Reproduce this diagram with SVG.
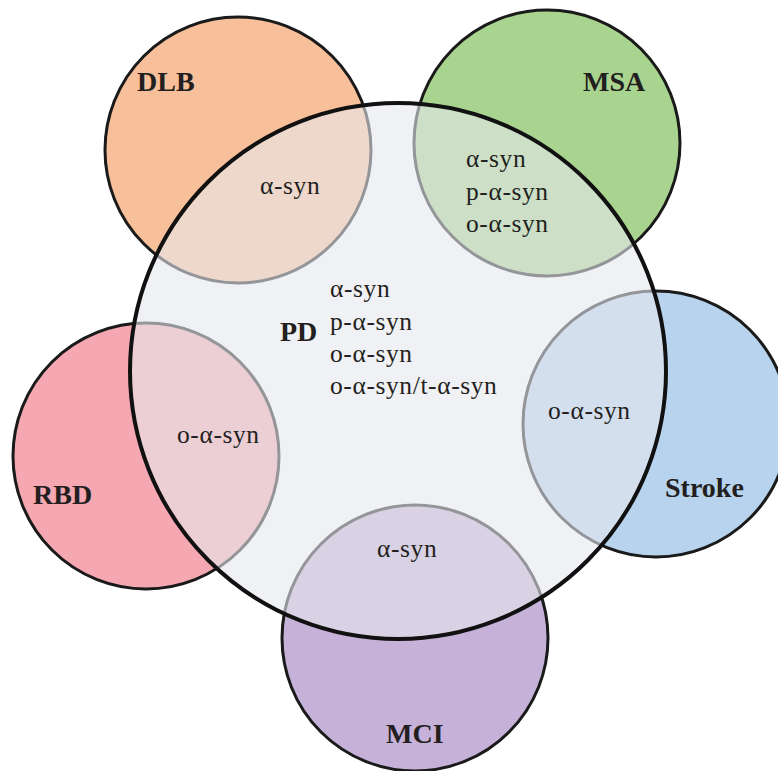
<svg xmlns="http://www.w3.org/2000/svg" width="778" height="771" viewBox="0 0 778 771">
<style>
.outer{stroke:#1a1a1a;stroke-width:3}
.lbl{font-weight:bold;font-size:28px}
.t{font-size:25.5px;letter-spacing:0.6px}
</style>
<rect width="778" height="771" fill="#ffffff"/>
<g id="DLB"><circle class="outer" cx="238" cy="150" r="133" fill="#f8c09a"/></g>
<g id="MSA"><circle class="outer" cx="547" cy="143" r="133" fill="#a9d490"/></g>
<g id="Stroke"><circle class="outer" cx="656" cy="424" r="133" fill="#b7d3ee"/></g>
<g id="RBD"><circle class="outer" cx="146" cy="456" r="133" fill="#f5a7b2"/></g>
<g id="MCI"><circle class="outer" cx="415" cy="638" r="133" fill="#c6b1d8"/></g>
<g id="PD"><circle cx="398" cy="371" r="268" fill="#e6e8ec" fill-opacity="0.6" stroke="#111" stroke-width="4"/></g>
<g id="connectors"></g>
<g id="labels" font-family="Liberation Serif, serif" fill="#231f20">
<text class="lbl" x="137" y="91">DLB</text>
<text class="lbl" x="583" y="91">MSA</text>
<text class="lbl" x="665" y="497">Stroke</text>
<text class="lbl" x="33" y="504">RBD</text>
<text class="lbl" x="386" y="743">MCI</text>
<text class="lbl" x="280" y="341">PD</text>
<text class="t" x="260" y="194">α-syn</text>
<text class="t" x="466" y="167">α-syn</text>
<text class="t" x="466" y="200">p-α-syn</text>
<text class="t" x="466" y="232">o-α-syn</text>
<text class="t" x="548" y="419">o-α-syn</text>
<text class="t" x="177" y="443">o-α-syn</text>
<text class="t" x="377" y="557">α-syn</text>
<text class="t" x="330" y="297">α-syn</text>
<text class="t" x="330" y="330">p-α-syn</text>
<text class="t" x="330" y="362">o-α-syn</text>
<text class="t" x="330" y="394">o-α-syn/t-α-syn</text>
</g>
</svg>
